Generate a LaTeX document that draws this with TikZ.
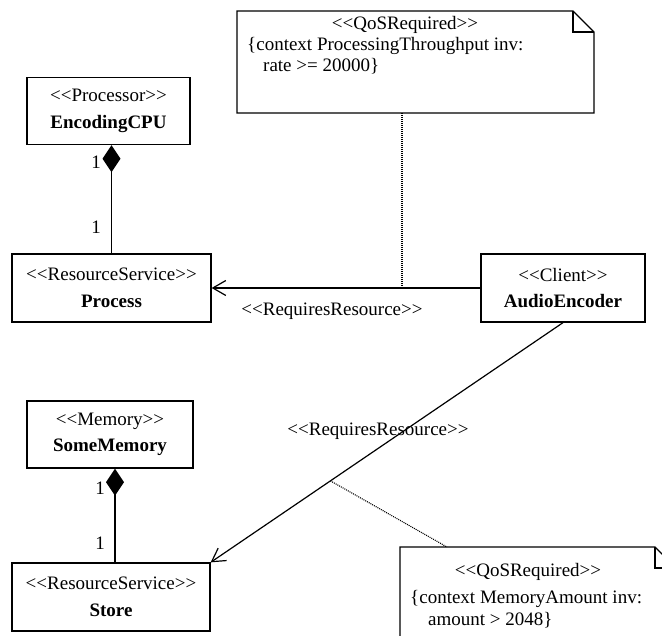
\documentclass[tikz,border=0pt]{standalone}
\usepackage{fontspec}
\setmainfont{Liberation Serif}[Ligatures=TeXOff]
\usetikzlibrary{arrows.meta}
\newcommand{\stereo}[1]{<<#1>>}
\begin{document}
\begin{tikzpicture}[x=1pt,y=-1pt,
  every node/.style={font=\fontsize{19}{26.5}\selectfont, inner sep=0pt},
  classbox/.style={draw, line width=1.3pt, align=center},
  notebox/.style={draw, line width=1.3pt, line join=miter},
  dep/.style={line width=1.2pt, -{Straight Barb[length=13pt,width=15pt,line width=1.2pt]}},
  comp/.style={line width=1.2pt, -{Diamond[length=27pt,width=18pt,line width=0pt]}},
  anchorline/.style={line width=1.1pt, dash pattern=on 1pt off 1pt},
  mult/.style={anchor=center}
]
\clip (0,0) rectangle (662,636);

% classes
\node[classbox, minimum width=163pt, minimum height=67pt] (cpu) at (108.5,111)
  {\stereo{Processor}\\\textbf{EncodingCPU}};
\node[classbox, minimum width=199pt, minimum height=68pt] (process) at (111.5,288)
  {\stereo{ResourceService}\\\textbf{Process}};
\node[classbox, minimum width=164pt, minimum height=68pt] (audio) at (563,288)
  {\stereo{Client}\\\textbf{AudioEncoder}};
\node[classbox, minimum width=166pt, minimum height=67pt] (mem) at (110,434.5)
  {\stereo{Memory}\\\textbf{SomeMemory}};
\node[classbox, minimum width=198pt, minimum height=68pt] (store) at (111,597)
  {\stereo{ResourceService}\\\textbf{Store}};

% compositions
\draw[comp] (process.north) -- (process.north |- cpu.south);
\node[mult] (m1) at (96,162) {1};
\node[mult] (m2) at (96,227) {1};
\coordinate (memlink) at (115,0);
\draw[comp] (memlink |- store.north) -- (memlink |- mem.south);
\node[mult] (m3) at (100,488) {1};
\node[mult] (m4) at (100,543) {1};

% resource dependencies
\draw[dep] (audio.west) -- (process.east);
\node (r1) at (332,311) {\stereo{RequiresResource}};
\draw[dep] (audio.south) -- (store.north east)
  coordinate[pos=0.66] (dmid);
\node (r2) at (378,431) {\stereo{RequiresResource}};

% QoS note on the processing dependency
\coordinate (qa) at (237,11);
\coordinate (qb) at (594,113);
\draw[notebox] (qa) -- (573,11) -- (594,32) -- (qb) -- (qa |- qb) -- cycle;
\draw[line width=1.2pt] (573,11) -- (573,32) -- (594,32);
\node[anchor=base] (qt1) at (405,30) {\stereo{QoSRequired}};
\node[anchor=base west] (qt2) at (247,51) {\{context ProcessingThroughput inv:};
\node[anchor=base west] (qt3) at (263,72) {rate >= 20000\}};
\coordinate (qlink) at (402,113);
\draw[anchorline] (qlink) -- (qlink |- process.east);

% QoS note on the memory dependency
\coordinate (ma) at (400,547);
\coordinate (mb) at (676,660);
\draw[notebox] (ma) -- (655,547) -- (676,568) -- (mb) -- (ma |- mb) -- cycle;
\draw[line width=1.2pt] (655,547) -- (655,568) -- (676,568);
\node[anchor=base] (mt1) at (528,576) {\stereo{QoSRequired}};
\node[anchor=base west] (mt2) at (410,603) {\{context MemoryAmount inv:};
\node[anchor=base west] (mt3) at (428,625) {amount > 2048\}};
\coordinate (mlink) at (447,547);
\draw[anchorline] (dmid) -- (mlink);
\end{tikzpicture}
\end{document}
